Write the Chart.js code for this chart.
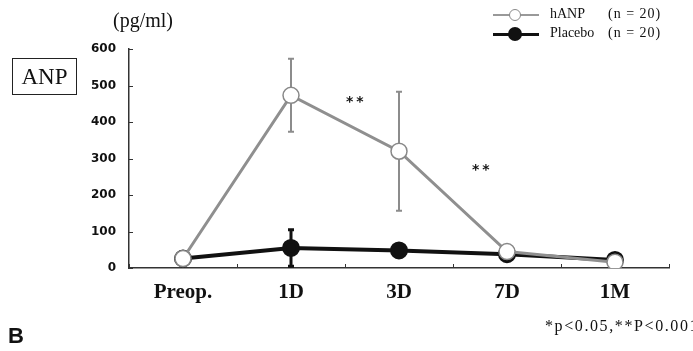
<!DOCTYPE html>
<html>
<head>
<meta charset="utf-8">
<script src="https://cdn.jsdelivr.net/npm/chart.js@4/dist/chart.umd.min.js"></script>
<style>
  html, body { margin: 0; padding: 0; background: #fff; }
  #wrap { position: relative; width: 693px; height: 351px; overflow: hidden; }
  #chart { position: absolute; left: 0; top: 0; }
  .txt { position: absolute; white-space: nowrap; color: #111; }
  .serif { font-family: "Liberation Serif", "DejaVu Serif", serif; }
  #unit { left: 113px; top: 9px; font-size: 20px; }
  #tag { left: 12px; top: 58px; width: 63px; height: 35px; border: 1.5px solid #222;
         font-size: 23px; line-height: 35px; text-align: center; }
  .stars { font-family: "DejaVu Sans", sans-serif; font-size: 14px; font-weight: bold; letter-spacing: 3px; }
  #s1 { left: 346px; top: 93px; }
  #s2 { left: 472px; top: 161px; }
  #panel { left: 8px; top: 323px; font-family: "Liberation Sans", Arial, sans-serif; font-weight: bold; font-size: 22px; }
  #note { left: 545px; top: 317px; font-size: 16px; letter-spacing: 1.6px; }
  .leg { position: absolute; left: 493px; width: 46px; }
  .leg .ln { position: absolute; left: 0; width: 46px; }
  .leg .dot { position: absolute; border-radius: 50%; box-sizing: border-box; }
  #legA { top: 8px; }
  #legA .ln { top: 6px; height: 2px; background: #999; }
  #legA .dot { left: 16px; top: 1px; width: 12px; height: 12px; border: 1.5px solid #888; background: #fff; }
  #legB { top: 27px; }
  #legB .ln { top: 6px; height: 3px; background: #111; }
  #legB .dot { left: 15px; top: 0px; width: 14px; height: 14px; background: #111; }
  .legtxt { font-size: 14px; }
  #lt1 { left: 550px; top: 6px; }
  #lt2 { left: 550px; top: 25px; }
  #ln1 { left: 608px; top: 6px; letter-spacing: 1px; }
  #ln2 { left: 608px; top: 25px; letter-spacing: 1px; }
</style>
</head>
<body>
<div id="wrap">
  <canvas id="chart" width="693" height="351"></canvas>
  <div class="txt serif" id="unit">(pg/ml)</div>
  <div class="txt serif" id="tag">ANP</div>
  <div class="txt stars" id="s1">**</div>
  <div class="txt stars" id="s2">**</div>
  <div class="leg" id="legA"><div class="ln"></div><div class="dot"></div></div>
  <div class="leg" id="legB"><div class="ln"></div><div class="dot"></div></div>
  <div class="txt serif legtxt" id="lt1">hANP</div>
  <div class="txt serif legtxt" id="lt2">Placebo</div>
  <div class="txt serif legtxt" id="ln1">(n = 20)</div>
  <div class="txt serif legtxt" id="ln2">(n = 20)</div>
  <div class="txt" id="panel">B</div>
  <div class="txt serif" id="note">*p&lt;0.05,**P&lt;0.001</div>
</div>
<script>
// time points and plasma ANP (mean, SD)
const timePoints = ['Preop.', '1D', '3D', '7D', '1M'];
const hanpMean = [26, 473, 320, 45, 16];
const hanpSd = [0, 100, 163, 0, 0];
const placeboMean = [26, 55, 48, 38, 22];
const placeboSd = [0, 50, 14, 12, 0];
const yTicks = [0, 100, 200, 300, 400, 500, 600];

// vertical SD bars with short caps, drawn under the points
const errorBars = {
  id: 'errorBars',
  beforeDatasetsDraw(chart) {
    const { ctx, scales: { x, y } } = chart;
    chart.data.datasets.forEach(ds => {
      ds.sd.forEach((sd, i) => {
        if (!sd) return;
        const px = x.getPixelForValue(i);
        const top = y.getPixelForValue(ds.data[i] + sd);
        const bot = y.getPixelForValue(Math.max(0, ds.data[i] - sd));
        ctx.save();
        ctx.strokeStyle = ds.barColor;
        ctx.lineWidth = ds.barWidth;
        ctx.beginPath();
        ctx.moveTo(px, top); ctx.lineTo(px, bot);
        ctx.moveTo(px - 3, top); ctx.lineTo(px + 3, top);
        ctx.moveTo(px - 3, bot); ctx.lineTo(px + 3, bot);
        ctx.stroke();
        ctx.restore();
      });
    });
  }
};

// small tick marks pointing into the plot area
const innerTicks = {
  id: 'innerTicks',
  afterDraw(chart) {
    const { ctx, scales: { x, y } } = chart;
    ctx.save();
    ctx.strokeStyle = '#333';
    ctx.lineWidth = 1;
    ctx.beginPath();
    yTicks.forEach(v => {
      const py = Math.round(y.getPixelForValue(v)) + 0.5;
      ctx.moveTo(x.left, py); ctx.lineTo(x.left + 4, py);
    });
    const n = timePoints.length;
    const step = x.getPixelForValue(1) - x.getPixelForValue(0);
    for (let i = 0; i <= n; i++) {
      const px = Math.round(x.getPixelForValue(0) + (i - 0.5) * step) + 0.5;
      ctx.moveTo(px, y.bottom); ctx.lineTo(px, y.bottom - 4);
    }
    ctx.stroke();
    ctx.restore();
  }
};

new Chart(document.getElementById('chart'), {
  type: 'line',
  data: {
    labels: timePoints,
    datasets: [
      {
        label: 'hANP',
        data: hanpMean,
        sd: hanpSd,
        barColor: '#8c8c8c',
        barWidth: 2,
        borderColor: '#8f8f8f',
        borderWidth: 3,
        pointRadius: 8,
        pointBackgroundColor: '#fff',
        pointBorderColor: '#888',
        pointBorderWidth: 1.5,
        tension: 0,
        order: 0,
      },
      {
        label: 'Placebo',
        data: placeboMean,
        sd: placeboSd,
        barColor: '#111',
        barWidth: 3,
        borderColor: '#111',
        borderWidth: 4,
        pointRadius: 7,
        pointBackgroundColor: '#111',
        pointBorderColor: '#111',
        tension: 0,
        order: 1,
      },
    ],
  },
  options: {
    responsive: false,
    animation: false,
    events: [],
    layout: { padding: { left: 0, right: 24, top: 49, bottom: 0 } },
    plugins: { legend: { display: false }, tooltip: { enabled: false } },
    scales: {
      x: {
        offset: true,
        grid: { offset: true, display: true, drawOnChartArea: false, drawTicks: false },
        border: { color: '#333', width: 1.5 },
        ticks: {
          color: '#111',
          padding: 12,
          font: { family: '"Liberation Serif", serif', size: 21, weight: 'bold' },
        },
        afterFit: s => { s.height = 83; },
      },
      y: {
        min: 0,
        max: 600,
        afterBuildTicks: s => { s.ticks = yTicks.map(v => ({ value: v })); },
        grid: { drawOnChartArea: false, drawTicks: false },
        border: { color: '#333', width: 1.5 },
        ticks: {
          color: '#111',
          padding: 13,
          font: { family: '"DejaVu Sans", sans-serif', size: 12, weight: 'bold' },
        },
        afterFit: s => { s.width = 129; },
      },
    },
  },
  plugins: [errorBars, innerTicks],
});
</script>
</body>
</html>
